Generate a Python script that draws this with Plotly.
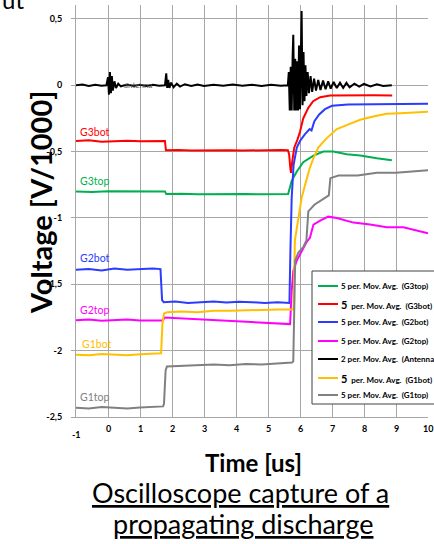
import plotly.graph_objects as go

# ---------------- data ----------------
g3bot_x = [-1, -0.6, -0.2, 0.2, 0.6, 1.0, 1.4, 1.78, 1.81, 2.2, 2.6, 3.0, 3.4, 3.8, 4.2, 4.6, 5.0, 5.4,
           5.62, 5.66, 5.70, 5.72, 5.76, 5.82, 5.92, 6.0, 6.1, 6.26, 6.41, 6.63, 6.94, 7.3, 7.8, 8.3, 8.88]
g3bot_y = [-0.42, -0.415, -0.425, -0.42, -0.418, -0.422, -0.42, -0.42, -0.49, -0.488, -0.492, -0.49,
           -0.487, -0.49, -0.492, -0.489, -0.49, -0.488, -0.49, -0.52, -0.63, -0.66, -0.57, -0.47,
           -0.41, -0.35, -0.25, -0.17, -0.12, -0.09, -0.077, -0.075, -0.076, -0.075, -0.077]

g3top_x = [-1, -0.5, 0, 0.5, 1, 1.5, 1.78, 1.82, 2.3, 2.8, 3.3, 3.8, 4.3, 4.8, 5.3, 5.63, 5.74, 5.9,
           6.1, 6.42, 6.73, 7.04, 7.46, 7.88, 8.4, 8.87]
g3top_y = [-0.80, -0.805, -0.798, -0.80, -0.802, -0.80, -0.80, -0.82, -0.818, -0.822, -0.82, -0.817,
           -0.82, -0.822, -0.82, -0.82, -0.72, -0.65, -0.58, -0.53, -0.50, -0.50, -0.52, -0.53, -0.55,
           -0.565]

g2bot_x = [-1, -0.6, -0.2, 0.2, 0.6, 1.0, 1.4, 1.64, 1.69, 1.74, 2.1, 2.5, 2.9, 3.3, 3.7, 4.1, 4.5,
           4.9, 5.3, 5.67, 5.70, 5.74, 5.80, 5.9, 6.0, 6.15, 6.3, 6.36, 6.45, 6.6, 6.78, 7.0, 7.5, 8.1,
           8.9, 9.5, 10]
g2bot_y = [-1.39, -1.385, -1.395, -1.38, -1.39, -1.385, -1.38, -1.385, -1.62, -1.635, -1.63, -1.64,
           -1.635, -1.63, -1.638, -1.632, -1.635, -1.64, -1.636, -1.64, -1.25, -0.85, -0.60, -0.47,
           -0.42, -0.37, -0.33, -0.34, -0.27, -0.22, -0.18, -0.155, -0.145, -0.145, -0.14, -0.145,
           -0.14]

g2top_x = [-1, -0.6, -0.2, 0.2, 0.6, 1.0, 1.4, 1.72, 1.76, 2.2, 2.6, 3.0, 3.4, 3.8, 4.2, 4.6, 5.0,
           5.4, 5.69, 5.74, 5.79, 5.9, 6.05, 6.21, 6.31, 6.42, 6.63, 6.88, 7.15, 7.67, 8.19, 8.71,
           9.23, 9.6, 10]
g2top_y = [-1.77, -1.765, -1.775, -1.77, -1.765, -1.772, -1.77, -1.772, -1.75, -1.755, -1.76,
           -1.765, -1.77, -1.775, -1.78, -1.785, -1.79, -1.795, -1.80, -1.55, -1.40, -1.32, -1.25,
           -1.18, -1.15, -1.05, -1.02, -0.99, -1.0, -1.035, -1.05, -1.07, -1.07, -1.09, -1.115]

g1bot_x = [-1, -0.6, -0.2, 0.2, 0.6, 1.0, 1.4, 1.62, 1.66, 1.70, 1.75, 1.85, 2.3, 2.8, 3.3, 3.8,
           4.3, 4.8, 5.3, 5.78, 5.80, 5.84, 5.94, 6.05, 6.16, 6.31, 6.42, 6.57, 6.83, 7.15, 7.46,
           7.88, 8.29, 8.71, 9.13, 9.6, 10]
g1bot_y = [-2.03, -2.035, -2.025, -2.03, -2.035, -2.028, -2.025, -2.02, -2.02, -1.80, -1.72,
           -1.71, -1.705, -1.71, -1.70, -1.70, -1.695, -1.695, -1.69, -1.69, -1.68, -1.17, -1.0,
           -0.85, -0.75, -0.62, -0.55, -0.47, -0.40, -0.33, -0.30, -0.26, -0.235, -0.215, -0.21,
           -0.205, -0.20]

g1top_x = [-1, -0.6, -0.2, 0.2, 0.6, 1.0, 1.4, 1.72, 1.75, 1.80, 1.84, 2.3, 2.8, 3.3, 3.8, 4.3,
           4.8, 5.3, 5.75, 5.79, 5.85, 5.95, 6.1, 6.2, 6.26, 6.45, 6.7, 6.9, 6.95, 7.2, 7.8, 8.4,
           9.0, 9.5, 10]
g1top_y = [-2.43, -2.435, -2.425, -2.43, -2.435, -2.428, -2.425, -2.42, -2.40, -2.15, -2.12,
           -2.115, -2.11, -2.105, -2.11, -2.1, -2.105, -2.1, -2.09, -2.08, -1.32, -1.26, -1.22,
           -1.17, -0.95, -0.90, -0.86, -0.83, -0.70, -0.68, -0.68, -0.66, -0.66, -0.65, -0.64]

ant_x = [-1, -0.8, -0.6, -0.4, -0.2, -0.05, 0.0, 0.03, 0.06, 0.09, 0.12, 0.15, 0.2, 0.25, 0.32,
         0.4, 0.6, 0.8, 1.0, 1.2, 1.4, 1.6, 1.78, 1.82, 1.85, 1.88, 1.92, 1.97, 2.05, 2.15, 2.25,
         2.4, 2.6, 2.8, 3.0, 3.3, 3.6, 3.9, 4.2, 4.5, 4.8, 5.1, 5.4, 5.62,
         5.65, 5.68, 5.71, 5.74, 5.77, 5.79, 5.82, 5.85, 5.88, 5.91, 5.94, 5.97, 6.00, 6.03, 6.05,
         6.08, 6.11, 6.14, 6.17, 6.20, 6.24, 6.28, 6.33, 6.38, 6.44, 6.50, 6.57, 6.64, 6.72, 6.80,
         6.88, 6.96, 7.05, 7.15, 7.25, 7.35, 7.45, 7.55, 7.7, 7.85, 8.0, 8.2, 8.4, 8.6, 8.87]
ant_y = [0.0, 0.005, -0.005, 0.004, -0.004, 0.0, 0.06, -0.07, 0.10, -0.06, 0.07, -0.04, 0.03,
         -0.02, 0.012, -0.008, 0.005, -0.006, 0.004, -0.005, 0.004, -0.004, 0.0, 0.09, -0.02, 0.04,
         -0.02, 0.02, -0.015, 0.012, -0.01, 0.008, -0.006, 0.005, -0.005, 0.004, -0.004, 0.005,
         -0.004, 0.004, -0.005, 0.004, -0.004, 0.0,
         0.10, -0.19, 0.14, -0.19, 0.22, 0.38, -0.19, 0.20, -0.19, 0.18, -0.19, 0.30, -0.18, 0.45,
         0.56, -0.15, 0.25, -0.12, 0.15, -0.08, 0.10, -0.06, 0.07, -0.05, 0.05, -0.04, 0.04, -0.035,
         0.035, -0.03, 0.03, -0.025, 0.025, -0.02, 0.02, -0.02, 0.018, -0.015, 0.012, -0.01, 0.01,
         -0.008, 0.008, -0.006, 0.0]

legend_order = ["G3top", "G3bot", "G2bot", "G2top", "Antenna", "G1bot", "G1top"]
legend_text = [
    "5 per. Mov. Avg.&nbsp;&nbsp;(G3top)",
    "<span style='font-size:11px'>5</span>&nbsp;&nbsp;per. Mov. Avg.&nbsp;&nbsp;(G3bot)",
    "5 per. Mov. Avg.&nbsp;&nbsp;(G2bot)",
    "5 per. Mov. Avg.&nbsp;&nbsp;(G2top)",
    "2 per. Mov. Avg.&nbsp;&nbsp;(Antenna)",
    "<span style='font-size:11px'>5</span>&nbsp;&nbsp;per. Mov. Avg.&nbsp;&nbsp;(G1bot)",
    "5 per. Mov. Avg.&nbsp;&nbsp;(G1top)",
]

series = {
    "G3top": (g3top_x, g3top_y, "#00b050"),
    "G3bot": (g3bot_x, g3bot_y, "#ff0000"),
    "G2bot": (g2bot_x, g2bot_y, "#2b3cff"),
    "G2top": (g2top_x, g2top_y, "#ff00ff"),
    "Antenna": (ant_x, ant_y, "#000000"),
    "G1bot": (g1bot_x, g1bot_y, "#ffc000"),
    "G1top": (g1top_x, g1top_y, "#808080"),
}

y_ticks = [0.5, 0, -0.5, -1, -1.5, -2, -2.5]
y_ticktext = ["0,5", "0", "-0,5", "-1", "-1,5", "-2", "-2,5"]
x_ticks = [-1, 0, 1, 2, 3, 4, 5, 6, 7, 8, 9, 10]
x_ticktext = ["-1", "0", "1", "2", "3", "4", "5", "6", "7", "8", "9", "10"]

# -------------- figure --------------
L, R, T, B = 76, 6, 5, 127
W, H = 434, 544
PW, PH = W - L - R, H - T - B


def px(xp):
    return (xp - L) / PW


def py(yp):
    return (H - B - yp) / PH


fig = go.Figure()
for key in legend_order:
    xs, ys, col = series[key]
    fig.add_trace(go.Scatter(x=xs, y=ys, mode="lines", name=key, showlegend=False,
                             line=dict(color=col, width=2)))

FONT = "Lato"
fig.update_layout(
    width=W, height=H,
    margin=dict(l=L, r=R, t=T, b=B, autoexpand=False),
    paper_bgcolor="white", plot_bgcolor="white",
    font=dict(family=FONT, color="black"),
    showlegend=False,
)
# x tick labels are written below the axis as text items (the "-1" sits lower, as in the original)
fig.update_xaxes(range=[-1, 10], tickmode="array", tickvals=x_ticks, showticklabels=False,
                 showgrid=True, gridcolor="#a6a6a6", gridwidth=1, zeroline=False,
                 showline=True, linecolor="#a6a6a6", ticks="")
fig.update_yaxes(range=[-2.5, 0.605], tickmode="array", tickvals=y_ticks, ticktext=y_ticktext,
                 showgrid=True, gridcolor="#a6a6a6", gridwidth=1, zeroline=False, showline=True,
                 linecolor="#a6a6a6", ticks="outside", ticklen=4, tickcolor="#a6a6a6",
                 ticklabelstandoff=7,
                 tickfont=dict(family=FONT, size=9, color="black", weight="bold"))

ann = []
shapes = []
for xv, xt in zip(x_ticks, x_ticktext):
    ann.append(dict(x=xv, y=py(434 if xv == -1 else 428), xref="x", yref="paper",
                    text="<b>" + xt + "</b>", showarrow=False, xanchor="center",
                    yanchor="middle", font=dict(family=FONT, size=9, color="black")))

# legend box (drawn by hand so that it can run past the right edge, as in the reference)
shapes.append(dict(type="rect", xref="paper", yref="paper", x0=px(312), x1=px(445),
                   y0=py(404), y1=py(271), fillcolor="white",
                   line=dict(color="#404040", width=1), layer="above"))
leg_rows = [286, 304, 322, 341, 359, 378, 395]
for key, txt, row in zip(legend_order, legend_text, leg_rows):
    col = series[key][2]
    shapes.append(dict(type="line", xref="paper", yref="paper", x0=px(318), x1=px(338),
                       y0=py(row), y1=py(row), line=dict(color=col, width=2), layer="above"))
    ann.append(dict(x=px(339), y=py(row), xref="paper", yref="paper", text="<b>" + txt + "</b>",
                    showarrow=False, xanchor="left", yanchor="middle",
                    font=dict(family=FONT, size=8, color="black")))

# series labels
labels = [("G3bot", -0.95, -0.35, "#ff0000"), ("G3top", -0.95, -0.72, "#00b050"),
          ("G2bot", -0.95, -1.30, "#2b3cff"), ("G2top", -0.95, -1.69, "#ff00ff"),
          ("G1bot", -0.88, -1.95, "#ffc000"), ("G1top", -0.95, -2.35, "#808080")]
for t, lx, ly, c in labels:
    ann.append(dict(x=lx, y=ly, xref="x", yref="y", text=t, showarrow=False, xanchor="left",
                    yanchor="middle", font=dict(family=FONT, size=10.5, color=c)))
ann.append(dict(x=0.95, y=0.0, xref="x", yref="y", text="antenna", showarrow=False,
                xanchor="center", yanchor="middle",
                font=dict(family=FONT, size=8, color="#555555")))
# titles
ann.append(dict(x=px(40), y=py(203), xref="paper", yref="paper",
                text="<b>Voltage [V/1000]</b>", textangle=-90, showarrow=False,
                xanchor="center", yanchor="middle",
                font=dict(family=FONT, size=29, color="black")))
ann.append(dict(x=px(253), y=py(462), xref="paper", yref="paper",
                text="<b>Time [us]</b>", showarrow=False, xanchor="center", yanchor="middle",
                font=dict(family=FONT, size=24, color="black")))
ann.append(dict(x=px(240), y=py(492), xref="paper", yref="paper",
                text="<u>Oscilloscope capture of a</u>", showarrow=False,
                xanchor="center", yanchor="middle",
                font=dict(family=FONT, size=27, color="black")))
ann.append(dict(x=px(243), y=py(523), xref="paper", yref="paper",
                text="<u>propagating discharge</u>", showarrow=False,
                xanchor="center", yanchor="middle",
                font=dict(family=FONT, size=27, color="black")))
ann.append(dict(x=px(0), y=py(16), xref="paper", yref="paper",
                text="ut", showarrow=False, xanchor="left", yanchor="bottom",
                font=dict(family=FONT, size=24, color="black")))
fig.update_layout(annotations=ann, shapes=shapes)

fig.write_html("out.html")
